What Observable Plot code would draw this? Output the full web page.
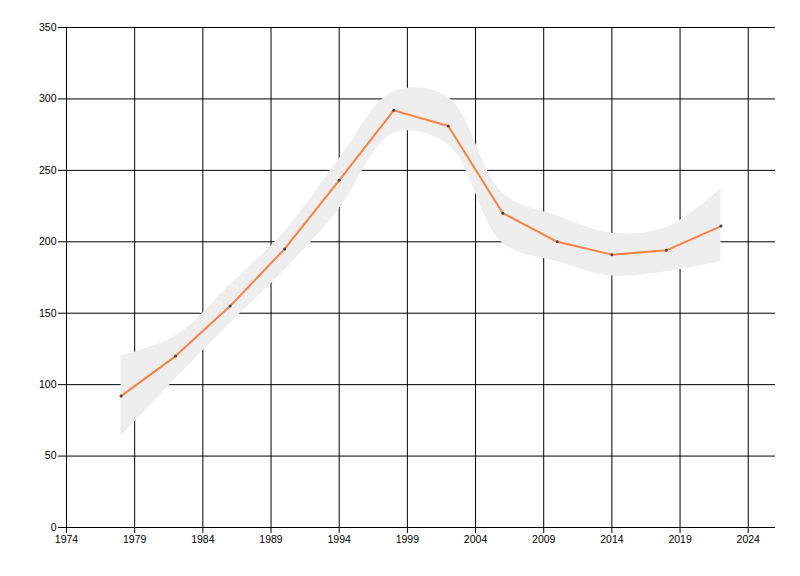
<!DOCTYPE html>
<html>
<head>
<meta charset="utf-8">
<script src="https://cdn.jsdelivr.net/npm/d3@7"></script>
<script src="https://cdn.jsdelivr.net/npm/@observablehq/plot@0.6"></script>
<style>
  html, body { margin: 0; padding: 0; background: #fff; }
  #chart svg { display: block; }
</style>
</head>
<body>
<div id="chart"></div>
<script>
const years  = [1978, 1982, 1986, 1990, 1994, 1998, 2002, 2006, 2010, 2014, 2018, 2022];
const values = [92, 120, 155, 195, 243, 292, 281, 220, 200, 191, 194, 211];
const upper  = [120, 134, 170, 207, 258, 305, 301, 234, 218, 206, 210, 237];
const lower  = [64, 104, 143, 180, 223, 276, 268, 199, 186, 176, 179, 186];
const xTicks = [1974, 1979, 1984, 1989, 1994, 1999, 2004, 2009, 2014, 2019, 2024];
const yTicks = [0, 50, 100, 150, 200, 250, 300, 350];

const data = years.map((y, i) => ({year: y, value: values[i], hi: upper[i], lo: lower[i]}));

const chart = Plot.plot({
  width: 800,
  height: 576,
  marginLeft: 66,
  marginRight: 25,
  marginTop: 27,
  marginBottom: 49,
  style: {fontFamily: "Liberation Sans, Arial, sans-serif", fontSize: "10.5px", color: "#000", background: "#fff"},
  x: {domain: [1974, 2026], ticks: xTicks, tickFormat: d => String(d), tickSize: 6, label: null},
  y: {domain: [0, 350], ticks: yTicks, tickSize: 8, label: null},
  marks: [
    Plot.ruleX(xTicks, {stroke: "#000", strokeWidth: 1}),
    Plot.ruleY(yTicks, {stroke: "#000", strokeWidth: 1}),
    Plot.areaY(data, {x: "year", y1: "lo", y2: "hi", fill: "#eeeeee", curve: "catmull-rom"}),
    Plot.line(data, {x: "year", y: "value", stroke: "#ff7f3f", strokeWidth: 2}),
    Plot.dot(data, {x: "year", y: "value", r: 1.5, fill: "#444", stroke: "none"}),
    Plot.ruleX([1974], {stroke: "#000"}),
    Plot.ruleY([0], {stroke: "#000"}),
    Plot.axisX({ticks: xTicks, tickFormat: d => String(d), tickSize: 6, tickPadding: 2}),
    Plot.axisY({ticks: yTicks, tickSize: 8, tickPadding: 2})
  ]
});
document.getElementById("chart").appendChild(chart);
</script>
</body>
</html>
